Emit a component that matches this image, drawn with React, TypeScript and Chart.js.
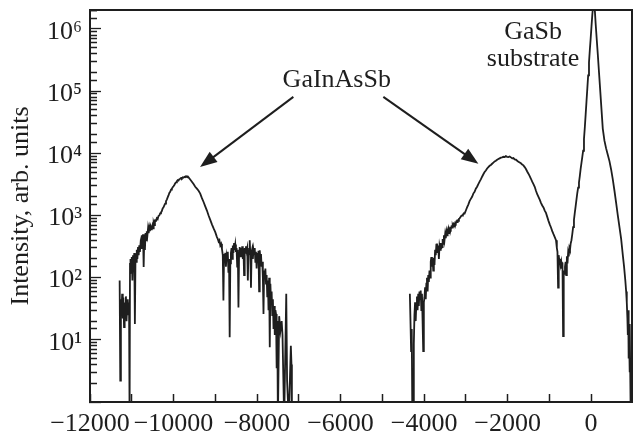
import React, { useEffect, useRef } from 'react';
import { Chart, registerables } from 'chart.js';

Chart.register(...registerables);

// ---- axis ranges & ticks ----
const X_MIN = -12000;
const X_MAX = 980;
const Y_MIN = 1;
const Y_MAX = 2.02e6;

const xTickPositions = [-12000, -11000, -10000, -9000, -8000, -7000, -6000, -5000, -4000, -3000, -2000, -1000, 0];
const xTickValues = [-12000, -10000, -8000, -6000, -4000, -2000, 0];
const xTickLabels = ['\u221212000', '\u221210000', '\u22128000', '\u22126000', '\u22124000', '\u22122000', '0'];
const yDecadeValues = [10, 100, 1000, 10000, 100000, 1000000];
const yDecadeLabels = ['10\u00b9', '10\u00b2', '10\u00b3', '10\u2074', '10\u2075', '10\u2076'];

const yTitle = 'Intensity, arb. units';

// ---- data: [angle (arc sec), intensity] ----
const leftLayerCurve: [number, number][] = [
  [-11290, 90], [-11275, 2.2], [-11260, 45], [-11245, 30], [-11230, 55], [-11215, 22], [-11200, 48],
  [-11185, 16], [-11170, 40], [-11155, 28], [-11140, 50], [-11125, 20], [-11110, 36], [-11095, 45],
  [-11080, 25], [-11065, 40], [-11052, 0.5], [-11042, 166], [-11030, 200], [-11015, 120], [-11000, 214],
  [-10985, 90], [-10970, 230], [-10955, 150], [-10940, 250], [-10925, 18], [-10910, 240], [-10895, 180],
  [-10880, 280], [-10865, 200], [-10850, 310], [-10835, 230], [-10820, 330], [-10805, 260], [-10790, 350],
  [-10775, 300], [-10760, 480], [-10745, 300], [-10730, 500], [-10715, 148], [-10700, 450], [-10685, 280],
  [-10670, 520], [-10655, 400], [-10640, 560], [-10625, 480], [-10610, 620], [-10595, 520], [-10580, 640],
  [-10565, 560], [-10550, 660], [-10535, 600], [-10520, 650], [-10505, 700], [-10490, 620], [-10475, 760],
  [-10460, 700], [-10445, 830], [-10420, 820], [-10400, 900], [-10380, 870], [-10360, 980], [-10340, 1000],
  [-10320, 1080], [-10300, 1120], [-10280, 1180], [-10260, 1300], [-10240, 1350], [-10220, 1450],
  [-10200, 1550], [-10180, 1700], [-10160, 1800], [-10140, 1950], [-10120, 2100], [-10100, 2300],
  [-10080, 2400], [-10060, 2600], [-10040, 2700], [-10020, 2850], [-10000, 2950], [-9980, 3100],
  [-9960, 3300], [-9940, 3400], [-9920, 3550], [-9900, 3700], [-9880, 3650], [-9860, 3850], [-9840, 3900],
  [-9820, 4000], [-9800, 3950], [-9780, 4100], [-9760, 4050], [-9740, 4200], [-9720, 4150], [-9700, 4300],
  [-9680, 4200], [-9660, 4250], [-9640, 4100], [-9600, 3800], [-9560, 3500], [-9520, 3200], [-9480, 2900],
  [-9440, 2700], [-9400, 2500], [-9360, 2250], [-9320, 1900], [-9280, 1650], [-9240, 1400], [-9200, 1200],
  [-9160, 1000], [-9120, 850], [-9080, 720], [-9040, 620], [-9000, 540], [-8960, 450], [-8940, 420],
  [-8920, 380], [-8900, 400], [-8880, 330], [-8860, 350], [-8840, 290], [-8820, 230], [-8805, 43],
  [-8790, 240], [-8775, 200], [-8760, 250], [-8745, 150], [-8730, 220], [-8715, 190], [-8700, 260],
  [-8685, 120], [-8670, 200], [-8655, 11], [-8640, 170], [-8625, 250], [-8610, 300], [-8595, 200],
  [-8580, 330], [-8565, 250], [-8550, 360], [-8535, 280], [-8520, 340], [-8505, 260], [-8490, 300],
  [-8475, 150], [-8460, 280], [-8445, 33], [-8430, 250], [-8415, 310], [-8400, 220], [-8385, 300],
  [-8370, 240], [-8355, 320], [-8340, 200], [-8325, 290], [-8310, 110], [-8295, 300], [-8280, 250],
  [-8265, 320], [-8250, 270], [-8235, 300], [-8220, 90], [-8205, 280], [-8190, 240], [-8175, 400],
  [-8160, 230], [-8145, 69], [-8130, 260], [-8115, 290], [-8100, 200], [-8085, 280], [-8070, 240],
  [-8055, 300], [-8040, 180], [-8025, 260], [-8010, 140], [-7995, 250], [-7980, 200], [-7965, 270],
  [-7950, 60], [-7935, 275], [-7920, 200], [-7905, 240], [-7890, 150], [-7875, 180], [-7860, 100],
  [-7845, 26], [-7830, 130], [-7815, 100], [-7800, 140], [-7785, 80], [-7770, 110], [-7755, 50],
  [-7740, 90], [-7725, 30], [-7710, 100], [-7695, 7.6], [-7680, 80], [-7665, 40], [-7650, 60],
  [-7635, 25], [-7620, 45], [-7605, 15], [-7590, 35], [-7575, 12], [-7560, 30], [-7545, 26],
  [-7530, 3.5], [-7515, 20], [-7500, 0.5], [-7470, 24], [-7440, 14], [-7410, 20], [-7390, 12],
  [-7350, 0.5], [-7300, 55], [-7280, 2.2], [-7240, 0.5], [-7190, 8], [-7175, 4], [-7165, 0.5],
];

const rightLayerCurve: [number, number][] = [
  [-4340, 55], [-4325, 20], [-4310, 6.6], [-4295, 15], [-4280, 0.5], [-4260, 0.5], [-4245, 8.5],
  [-4230, 25], [-4215, 40], [-4200, 20], [-4185, 38], [-4170, 50], [-4155, 30], [-4140, 55], [-4125, 35],
  [-4110, 60], [-4095, 45], [-4080, 62], [-4065, 30], [-4050, 55], [-4035, 20], [-4020, 6.6], [-4005, 40],
  [-3990, 48], [-3975, 70], [-3960, 45], [-3945, 80], [-3930, 100], [-3915, 60], [-3900, 110], [-3885, 85],
  [-3870, 130], [-3855, 100], [-3840, 180], [-3825, 214], [-3810, 150], [-3795, 200], [-3780, 130],
  [-3765, 210], [-3750, 160], [-3735, 280], [-3720, 230], [-3705, 340], [-3690, 355], [-3675, 250],
  [-3660, 330], [-3645, 200], [-3630, 320], [-3615, 280], [-3600, 360], [-3585, 300], [-3570, 310],
  [-3555, 420], [-3540, 350], [-3525, 480], [-3510, 400], [-3495, 500], [-3480, 430], [-3465, 540],
  [-3450, 480], [-3435, 560], [-3420, 520], [-3405, 600], [-3390, 560], [-3375, 620], [-3360, 600],
  [-3345, 660], [-3330, 640], [-3315, 700], [-3300, 660], [-3285, 720], [-3270, 700], [-3255, 760],
  [-3240, 740], [-3225, 800], [-3210, 780], [-3195, 830], [-3180, 820], [-3165, 880], [-3150, 900],
  [-3130, 940], [-3110, 980], [-3090, 1000], [-3070, 1030], [-3050, 1080], [-3030, 1070], [-3010, 1150],
  [-2990, 1250], [-2970, 1350], [-2940, 1500], [-2910, 1700], [-2880, 1850], [-2850, 2000], [-2820, 2250],
  [-2790, 2400], [-2760, 2700], [-2730, 2900], [-2700, 3200], [-2670, 3500], [-2640, 3800], [-2610, 4200],
  [-2580, 4600], [-2550, 5000], [-2520, 5300], [-2490, 5700], [-2460, 6000], [-2430, 6300], [-2400, 6500],
  [-2370, 6800], [-2340, 7100], [-2310, 7400], [-2280, 7600], [-2250, 7900], [-2220, 8100], [-2190, 8300],
  [-2160, 8500], [-2130, 8600], [-2100, 8800], [-2070, 8700], [-2040, 9000], [-2010, 8800], [-1980, 8700],
  [-1950, 8900], [-1920, 8600], [-1890, 8300], [-1860, 8400], [-1830, 8000], [-1800, 7900], [-1770, 7600],
  [-1740, 7300], [-1710, 7100], [-1680, 6900], [-1650, 6600], [-1620, 6400], [-1590, 6000], [-1560, 5600],
  [-1530, 5100], [-1500, 4700], [-1470, 4300], [-1440, 3900], [-1410, 3500], [-1380, 3200], [-1350, 2900],
  [-1320, 2500], [-1290, 2200], [-1260, 2000], [-1230, 1800], [-1200, 1600], [-1170, 1450], [-1140, 1350],
  [-1110, 1200], [-1080, 1100], [-1050, 950], [-1020, 820], [-990, 720], [-960, 640], [-930, 560],
  [-900, 500], [-870, 450], [-840, 400], [-820, 300], [-805, 260], [-790, 69], [-775, 230], [-760, 180],
  [-745, 200], [-730, 160], [-715, 180], [-700, 140], [-685, 175], [-670, 11.5], [-655, 130], [-640, 115],
  [-625, 150], [-610, 180], [-595, 110], [-580, 220], [-565, 170], [-550, 250], [-535, 220], [-520, 300],
  [-505, 280], [-490, 350],
];

const substrateCurve: [number, number][] = [
  [-470, 400], [-450, 500], [-430, 650], [-410, 850], [-390, 1100], [-370, 1400], [-350, 1800],
  [-330, 2300], [-310, 2800], [-290, 3400], [-270, 4300], [-250, 5600], [-230, 7000], [-210, 8800],
  [-190, 11000], [-170, 17000], [-150, 26000], [-130, 42000], [-110, 68000], [-90, 110000],
  [-70, 180000], [-50, 290000], [-30, 460000], [-10, 700000], [10, 1100000], [30, 1700000],
  [50, 2400000], [70, 2800000], [90, 2000000], [110, 1200000], [137, 660000], [160, 400000],
  [190, 200000], [220, 100000], [250, 50000], [280, 25000], [320, 16000], [360, 12000], [400, 9500],
  [440, 7500], [480, 5500], [520, 3800], [560, 2500], [600, 1600], [640, 1000], [680, 650], [720, 420],
  [760, 230], [790, 150], [820, 90], [840, 60], [855, 40], [870, 22], [880, 12], [890, 30], [900, 5],
  [910, 12], [920, 3], [930, 18], [940, 2.2], [950, 0.5],
];

// ---- annotations (data coordinates) ----
const annotationTexts = [
  { text: 'GaInAsSb', x: -6090, y: 1.17e5 },
  { text: 'GaSb', x: -1390, y: 6.9e5 },
  { text: 'substrate', x: -1390, y: 2.5e5 },
];
const annotationArrows = [
  { fromX: -7130, fromY: 8.1e4, toX: -9365, toY: 6000 },
  { fromX: -4975, fromY: 8.1e4, toX: -2699, toY: 6800 },
];

const INK = '#1e1e1e';
const FONT = '"Liberation Serif", "Times New Roman", serif';

const isDecade = (v: number) => {
  if (!(v > 0)) return false;
  const l = Math.log10(v);
  return Math.abs(l - Math.round(l)) < 1e-9;
};

const annotationPlugin = {
  id: 'xrdAnnotations',
  afterDatasetsDraw(chart: any) {
    const { ctx, scales } = chart;
    const xs = scales.x;
    const ys = scales.y;
    ctx.save();
    ctx.fillStyle = INK;
    ctx.strokeStyle = INK;
    ctx.font = `26px ${FONT}`;
    ctx.textAlign = 'center';
    ctx.textBaseline = 'alphabetic';
    for (const a of annotationTexts) {
      ctx.fillText(a.text, xs.getPixelForValue(a.x), ys.getPixelForValue(a.y));
    }
    for (const ar of annotationArrows) {
      const x1 = xs.getPixelForValue(ar.fromX);
      const y1 = ys.getPixelForValue(ar.fromY);
      const x2 = xs.getPixelForValue(ar.toX);
      const y2 = ys.getPixelForValue(ar.toY);
      const ang = Math.atan2(y2 - y1, x2 - x1);
      const head = 17;
      const half = 6.5;
      const bx = x2 - head * Math.cos(ang);
      const by = y2 - head * Math.sin(ang);
      ctx.lineWidth = 2;
      ctx.beginPath();
      ctx.moveTo(x1, y1);
      ctx.lineTo(bx + 2 * Math.cos(ang), by + 2 * Math.sin(ang));
      ctx.stroke();
      ctx.beginPath();
      ctx.moveTo(x2, y2);
      ctx.lineTo(bx + half * Math.sin(ang), by - half * Math.cos(ang));
      ctx.lineTo(bx - half * Math.sin(ang), by + half * Math.cos(ang));
      ctx.closePath();
      ctx.fill();
    }
    ctx.restore();
  },
};

export default function App() {
  const canvasRef = useRef<HTMLCanvasElement | null>(null);

  useEffect(() => {
    document.body.style.margin = '0';
    const canvas = canvasRef.current;
    if (!canvas) return;
    const toPts = (arr: [number, number][]) => arr.map(([x, y]) => ({ x, y }));
    const chart = new Chart(canvas, {
      type: 'line',
      data: {
        datasets: [
          {
            label: 'GaInAsSb (left)',
            data: toPts(leftLayerCurve),
            borderColor: INK,
            borderWidth: 1.8,
            pointRadius: 0,
            tension: 0,
            fill: false,
          },
          {
            label: 'GaInAsSb + GaSb substrate',
            data: toPts([...rightLayerCurve, ...substrateCurve]),
            borderColor: INK,
            borderWidth: 1.8,
            pointRadius: 0,
            tension: 0,
            fill: false,
          },
        ],
      },
      options: {
        responsive: false,
        animation: false,
        events: [],
        layout: { padding: 0 },
        plugins: {
          legend: { display: false },
          tooltip: { enabled: false },
          title: { display: false },
        },
        scales: {
          x: {
            type: 'linear',
            position: 'bottom',
            min: X_MIN,
            max: X_MAX,
            border: { display: true, color: INK, width: 2 },
            grid: {
              display: true,
              drawOnChartArea: false,
              drawTicks: true,
              tickLength: -8,
              tickColor: INK,
              tickWidth: 1.5,
            },
            afterBuildTicks: (s: any) => {
              s.ticks = xTickPositions.map((v) => ({ value: v }));
            },
            ticks: {
              autoSkip: false,
              maxRotation: 0,
              minRotation: 0,
              padding: 15,
              color: INK,
              font: { family: FONT, size: 26 },
              callback: (value: any) => {
                const v = Number(value);
                const i = xTickValues.findIndex((t) => Math.abs(t - v) < 1e-6);
                return i >= 0 ? xTickLabels[i] : '';
              },
            },
            afterFit: (s: any) => {
              s.height = 35;
              s.paddingLeft = 0;
              s.paddingRight = 0;
            },
          },
          y: {
            type: 'logarithmic',
            position: 'left',
            min: Y_MIN,
            max: Y_MAX,
            border: { display: true, color: INK, width: 2 },
            grid: {
              display: true,
              drawOnChartArea: false,
              drawTicks: true,
              tickLength: -11,
              tickColor: INK,
              tickWidth: 1.3,
              tickBorderDash: (ctx: any) => {
                const v = ctx && ctx.tick ? ctx.tick.value : undefined;
                return v !== undefined && isDecade(v) ? [] : [0, 4, 8, 100];
              },
            },
            ticks: {
              autoSkip: false,
              padding: 19,
              labelOffset: 3,
              color: INK,
              font: { family: FONT, size: 26 },
              callback: (value: any) => {
                const v = Number(value);
                const i = yDecadeValues.findIndex((d) => Math.abs(v - d) / d < 1e-6);
                return i >= 0 ? yDecadeLabels[i] : '';
              },
            },
            title: {
              display: true,
              text: yTitle,
              color: INK,
              font: { family: FONT, size: 26 },
              padding: { top: 6, bottom: 0 },
            },
            afterFit: (s: any) => {
              s.width = 90;
              s.paddingTop = 0;
              s.paddingBottom = 0;
            },
          },
          x2: {
            type: 'linear',
            position: 'top',
            min: X_MIN,
            max: X_MAX,
            border: { display: true, color: INK, width: 2 },
            grid: { display: false },
            ticks: { display: false },
            afterFit: (s: any) => {
              s.height = 10;
              s.paddingLeft = 0;
              s.paddingRight = 0;
            },
          },
          y2: {
            type: 'linear',
            position: 'right',
            min: 0,
            max: 1,
            border: { display: true, color: INK, width: 2 },
            grid: { display: false },
            ticks: { display: false },
            afterFit: (s: any) => {
              s.width = 2;
              s.paddingTop = 0;
              s.paddingBottom = 0;
            },
          },
        },
      } as any,
      plugins: [annotationPlugin],
    });
    return () => chart.destroy();
  }, []);

  return (
    <div style={{ width: 634, height: 437, background: '#fff' }}>
      <canvas ref={canvasRef} width={634} height={437} />
    </div>
  );
}
